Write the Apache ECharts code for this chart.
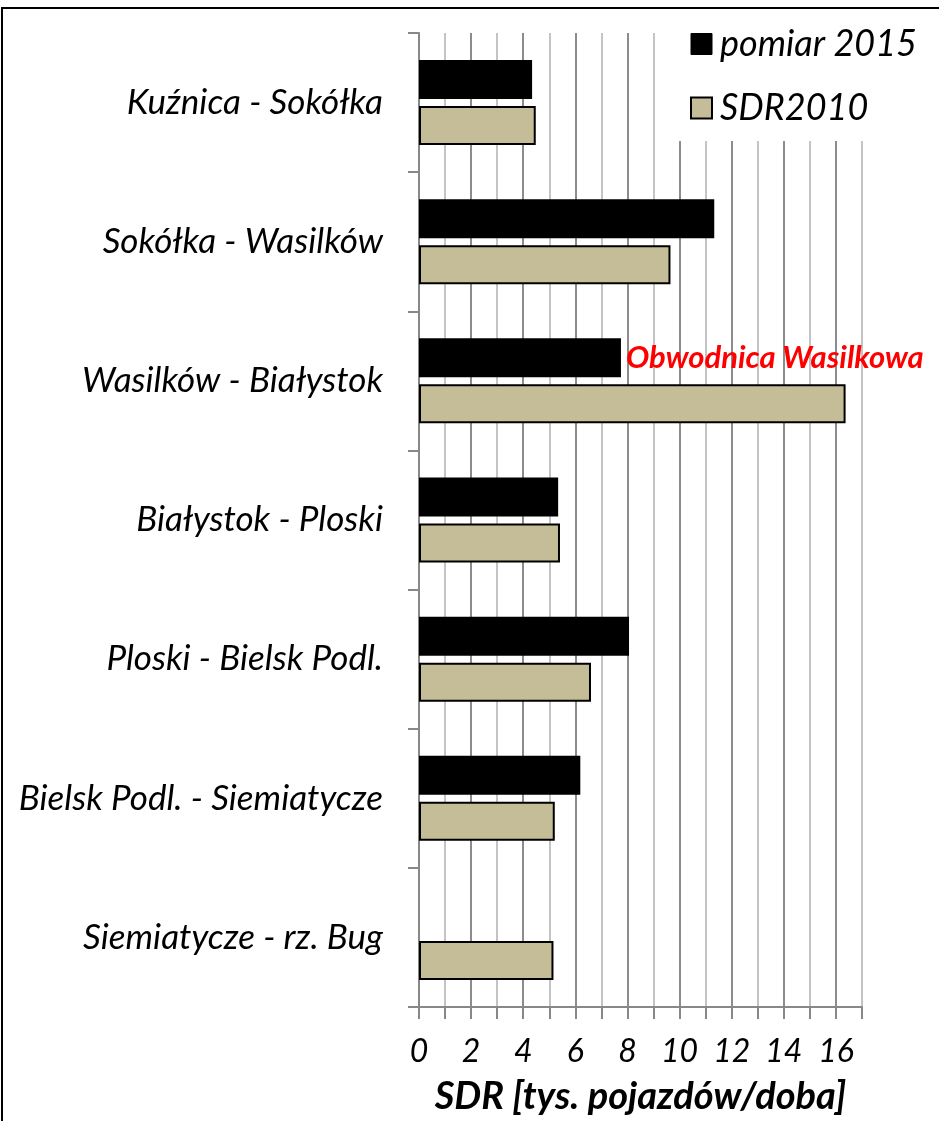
<!DOCTYPE html>
<html><head><meta charset="utf-8">
<script src="https://cdn.jsdelivr.net/npm/echarts@6/dist/echarts.min.js"></script>
<style>
html,body{margin:0;padding:0;background:#fff;}
#frame{position:absolute;left:1px;top:7px;width:938px;height:1114px;border-top:2px solid #000;border-left:2px solid #000;box-sizing:border-box;}
#chart{position:absolute;left:0;top:0;width:939px;height:1121px;}
</style></head>
<body>
<div id="chart"></div>
<div id="frame"></div>
<script>
const categories = ['Kuźnica - Sokółka','Sokółka - Wasilków','Wasilków - Białystok','Białystok - Ploski','Ploski - Bielsk Podl.','Bielsk Podl. - Siemiatycze','Siemiatycze - rz. Bug'];
const pomiar2015 = [4.34, 11.33, 7.75, 5.34, 8.06, 6.19, null];
const sdr2010 = [4.48, 9.65, 16.37, 5.41, 6.6, 5.21, 5.16];
const seriesNames = ['pomiar 2015','SDR2010'];
const annotationText = 'Obwodnica Wasilkowa';
const annotationIndex = 2;
const xTickLabels = ['0','2','4','6','8','10','12','14','16'];
const xAxisName = 'SDR [tys. pojazdów/doba]';

const font = 'Lato, "Open Sans", sans-serif';
const chart = echarts.init(document.getElementById('chart'), null, {renderer:'canvas'});

const blackData = pomiar2015.map((v,i) => i === annotationIndex ? {
  value: v,
  label: {show:true, position:'right', distance:5, formatter: annotationText,
    color:'#ff0000', fontStyle:'italic', fontWeight:'bold', fontSize:31, fontFamily:font}
} : v);

chart.setOption({
  animation:false,
  backgroundColor:'#fff',
  grid:{left:419, right:77, top:33, bottom:113},
  legend:{
    orient:'vertical', left:666, top:6,
    padding:[20,40,15,24],
    backgroundColor:'#fff',
    icon:'rect',
    itemWidth:21, itemHeight:21, itemGap:28,
    textStyle:{fontFamily:font, fontStyle:'italic', fontSize:36, color:'#000', padding:[0,0,0,3]},
    data:[
      {name:seriesNames[0], itemStyle:{color:'#000', borderColor:'#000', borderWidth:1}},
      {name:seriesNames[1], itemStyle:{color:'#c4bd97', borderColor:'#000', borderWidth:2}}
    ]
  },
  xAxis:{
    type:'value', min:0, max:17, interval:1,
    axisLine:{show:true, lineStyle:{color:'#888', width:2}},
    axisTick:{show:true, length:12, lineStyle:{color:'#888', width:2}},
    splitLine:{show:true, lineStyle:{color:['#8c8c8c','#c4c4c4'], width:2}},
    axisLabel:{margin:29, fontFamily:font, fontStyle:'italic', fontSize:32, color:'#000',
      formatter: v => xTickLabels.includes(String(v)) ? String(v) : ''},
    name:xAxisName, nameLocation:'middle', nameGap:71,
    nameTextStyle:{fontFamily:font, fontStyle:'italic', fontWeight:'bold', fontSize:38, color:'#000'}
  },
  yAxis:{
    type:'category', inverse:true, data:categories,
    axisLine:{show:true, lineStyle:{color:'#888', width:2}},
    axisTick:{show:true, length:11, lineStyle:{color:'#888', width:2}},
    axisLabel:{margin:36, fontFamily:font, fontStyle:'italic', fontSize:35, color:'#000'},
    splitLine:{show:false}
  },
  series:[
    {name:seriesNames[0], type:'bar', data:blackData, barWidth:39, barGap:'18%',
     itemStyle:{color:'#000', borderColor:'#000', borderWidth:0}},
    {name:seriesNames[1], type:'bar', data:sdr2010, barWidth:39,
     itemStyle:{color:'#c4bd97', borderColor:'#000', borderWidth:2}}
  ]
});
</script>
</body></html>
